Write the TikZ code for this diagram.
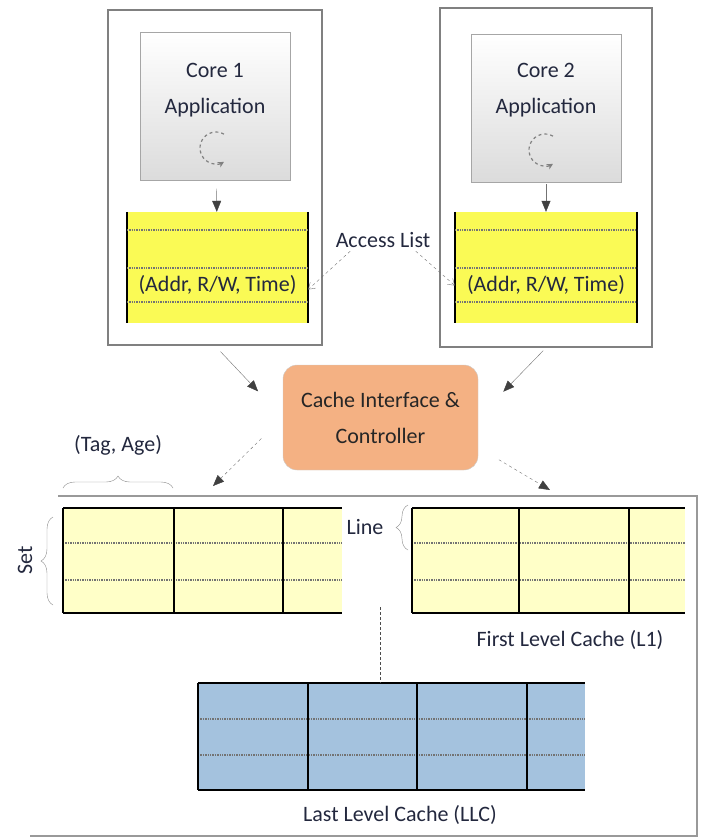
\documentclass[tikz,border=0pt]{standalone}
\usepackage{fontspec}
\setmainfont{Carlito}
\usetikzlibrary{arrows.meta,positioning,decorations.pathreplacing}
\definecolor{listyellow}{RGB}{250,250,85}
\definecolor{cellyellow}{RGB}{255,255,200}
\definecolor{llcblue}{RGB}{164,194,222}
\definecolor{ctrlorange}{RGB}{244,177,131}
\definecolor{inkblue}{RGB}{35,40,62}

\begin{document}
\begin{tikzpicture}[x=1pt,y=-1pt,font=\fontsize{22}{36}\selectfont,text=inkblue,
   outerbox/.style={draw=black!50,line width=1.6pt},
   appbox/.style={draw=black!35,top color=white,bottom color=black!14,minimum width=150pt,minimum height=148pt},
   listbox/.style={fill=listyellow,minimum width=181pt,minimum height=111pt,inner sep=0pt},
   ctrlbox/.style={rounded corners=14pt,fill=ctrlorange,draw=black!20,minimum width=195pt,minimum height=105pt,align=center,text=black!85},
   cell/.style={inner sep=0pt,outer sep=0pt,minimum height=105pt},
   wall/.style={draw=black,line width=1.6pt},
   dotrow/.style={draw=black!55,densely dotted,line width=1.4pt},
   pointer/.style={draw=black!55,-{Triangle[length=11pt,width=9pt,color=black!75]}},
   note/.style={draw=black!55,dashed,-{Straight Barb[length=6pt,width=8pt]}},
   spin/.style={draw=black!50,dashed,line width=1.2pt,-{Stealth[length=6pt,width=6pt]}},
   curly/.style={draw=black!45,decorate,decoration={brace,amplitude=12pt}}]
  \useasboundingbox (0,0) rectangle (702,839);

  % core 1
  \node[outerbox,minimum width=214pt,minimum height=335pt] (core1) at (215,177.5) {};
  \node[appbox] (app1) at (215.5,106.5) {};
  \node[align=center] (name1) at (215,90) {Core 1\\Application};
  \draw[spin] (216,148) ++(-60:16) arc[start angle=-60,end angle=-300,radius=16];
  \node[listbox] (list1) at (217.5,267.5) {};
  \draw[wall] (list1.north west) -- (list1.south west) (list1.north east) -- (list1.south east);
  \draw[dotrow] ([yshift=-18pt]list1.north west) -- ([yshift=-18pt]list1.north east)
                ([yshift=-56pt]list1.north west) -- ([yshift=-56pt]list1.north east)
                ([yshift=-90pt]list1.north west) -- ([yshift=-90pt]list1.north east);
  \node (rec1) at (217.5,285) {(Addr, R/W, Time)};
  \draw[pointer,shorten <=8pt] (app1) -- (list1);

  % core 2
  \node[outerbox,minimum width=212pt,minimum height=339pt] (core2) at (546,177.5) {};
  \node[appbox] (app2) at (546,108) {};
  \node[align=center] (name2) at (546,90) {Core 2\\Application};
  \draw[spin] (545,150) ++(-60:16) arc[start angle=-60,end angle=-300,radius=16];
  \node[listbox,minimum width=182pt] (list2) at (546,267.5) {};
  \draw[wall] (list2.north west) -- (list2.south west) (list2.north east) -- (list2.south east);
  \draw[dotrow] ([yshift=-18pt]list2.north west) -- ([yshift=-18pt]list2.north east)
                ([yshift=-56pt]list2.north west) -- ([yshift=-56pt]list2.north east)
                ([yshift=-90pt]list2.north west) -- ([yshift=-90pt]list2.north east);
  \node (rec2) at (546,285) {(Addr, R/W, Time)};
  \draw[pointer,shorten <=2pt] (app2) -- (list2);

  \node (acc) at (383,240) {Access List};
  \draw[note] ([xshift=18pt]acc.south west) -- ([yshift=-22pt]list1.east);
  \draw[note] ([xshift=-18pt]acc.south east) -- ([yshift=-18pt]list2.west);

  % controller
  \node[ctrlbox] (ctrl) at (380.5,417.5) {Cache Interface \&\\Controller};
  \draw[pointer,shorten <=8pt,shorten >=36pt] (core1.south) -- (ctrl.west);
  \draw[pointer,shorten <=4pt,shorten >=36pt] (core2.south) -- (ctrl.east);
  \coordinate (l1in) at (213,486);
  \coordinate (l1out) at (550,490);
  \draw[pointer,dashed,shorten <=30pt] (ctrl.west) -- (l1in);
  \draw[pointer,dashed,shorten <=24pt] ([yshift=-30pt]ctrl.east) -- (l1out);

  % caches
  \draw[draw=black!40,line width=1.6pt] (58,496) -- (697,496) -- (697,836) -- (30,836);

  \node[cell,fill=cellyellow,minimum width=111pt] (l1a) at (118.5,560.5) {};
  \node[cell,fill=cellyellow,minimum width=109pt,right=0 of l1a] (l1b) {};
  \node[cell,fill=cellyellow,minimum width=59pt,right=0 of l1b] (l1c) {};
  \draw[dotrow] ([yshift=-35pt]l1a.north west) -- ([yshift=-35pt]l1c.north east)
                ([yshift=-72pt]l1a.north west) -- ([yshift=-72pt]l1c.north east);
  \draw[wall] (l1a.north west) -- (l1c.north east) (l1a.south west) -- (l1c.south east)
              (l1a.north west) -- (l1a.south west) (l1b.north west) -- (l1b.south west)
              (l1b.north east) -- (l1b.south east);

  \node[cell,fill=cellyellow,minimum width=107pt] (l1d) at (465.5,560.5) {};
  \node[cell,fill=cellyellow,minimum width=110pt,right=0 of l1d] (l1e) {};
  \node[cell,fill=cellyellow,minimum width=56pt,right=0 of l1e] (l1f) {};
  \draw[dotrow] ([yshift=-35pt]l1d.north west) -- ([yshift=-35pt]l1f.north east)
                ([yshift=-72pt]l1d.north west) -- ([yshift=-72pt]l1f.north east);
  \draw[wall] (l1d.north west) -- (l1f.north east) (l1d.south west) -- (l1f.south east)
              (l1d.north west) -- (l1d.south west) (l1e.north west) -- (l1e.south west)
              (l1e.north east) -- (l1e.south east);

  \node[cell,fill=llcblue,minimum height=107pt,minimum width=110pt] (m1) at (253,736.5) {};
  \node[cell,fill=llcblue,minimum height=107pt,minimum width=109pt,right=0 of m1] (m2) {};
  \node[cell,fill=llcblue,minimum height=107pt,minimum width=110pt,right=0 of m2] (m3) {};
  \node[cell,fill=llcblue,minimum height=107pt,minimum width=58pt,right=0 of m3] (m4) {};
  \draw[dotrow] ([yshift=-36pt]m1.north west) -- ([yshift=-36pt]m4.north east)
                ([yshift=-72pt]m1.north west) -- ([yshift=-72pt]m4.north east);
  \draw[wall] (m1.north west) -- (m4.north east) (m1.south west) -- (m4.south east)
              (m1.north west) -- (m1.south west) (m2.north west) -- (m2.south west)
              (m3.north west) -- (m3.south west) (m3.north east) -- (m3.south east);

  \draw[curly] (63,488) -- (173,488);
  \node (tagage) at (118,445) {(Tag, Age)};
  \draw[curly] (53,605) -- (53,517);
  \node[rotate=90] (setlbl) at (25,560) {Set};
  \draw[curly] (408,550) -- (408,505);
  \node (linelbl) at (365,527) {Line};
  \coordinate (gap) at (380,607);
  \draw[densely dashed,draw=black!70,line width=1pt] (gap) -- (gap |- m2.north);
  \node (l1lbl) at (570,640) {First Level Cache (L1)};
  \node (llclbl) at (400,815) {Last Level Cache (LLC)};
\end{tikzpicture}
\end{document}
